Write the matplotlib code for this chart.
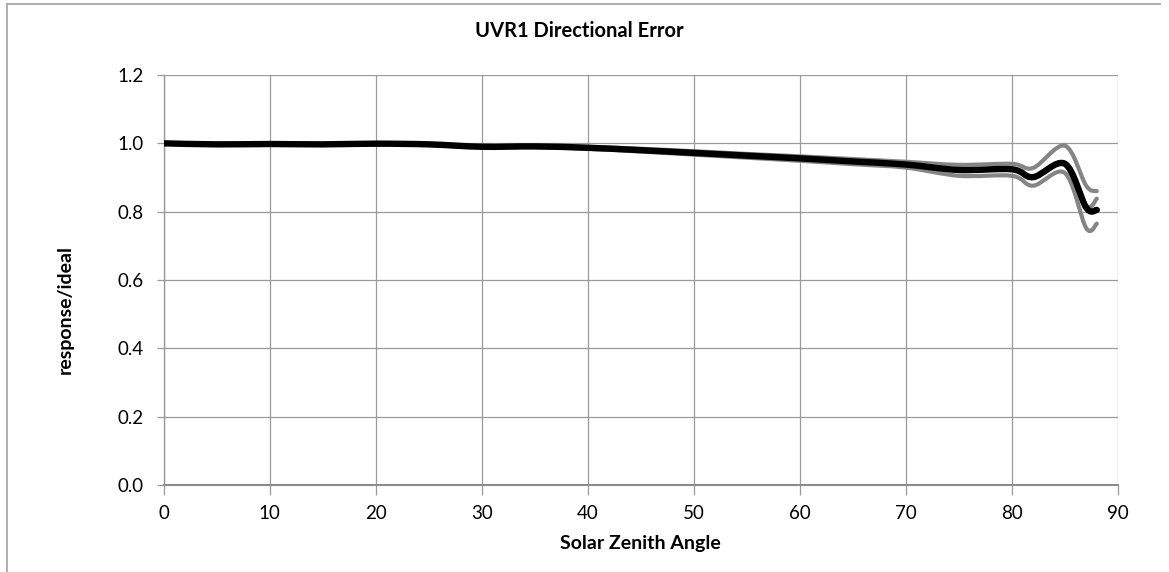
import numpy as np
import matplotlib
matplotlib.use("Agg")
import matplotlib.pyplot as plt
from matplotlib.path import Path
from matplotlib.patches import PathPatch
from matplotlib.lines import Line2D

# Solar zenith angles (degrees) and relative response of the UVR1 sensor
angles = [0, 5, 10, 15, 20, 25, 30, 35, 40, 45, 50, 55, 60, 65, 70, 75, 80, 82, 85, 87, 88]
mean_response = [1.000, 0.997, 0.998, 0.997, 0.999, 0.997, 0.990, 0.991, 0.987, 0.980, 0.972,
                 0.964, 0.956, 0.947, 0.938, 0.922, 0.924, 0.901, 0.940, 0.812, 0.805]
upper_response = [1.001, 0.998, 0.999, 0.998, 1.000, 0.999, 0.992, 0.993, 0.990, 0.984, 0.977,
                  0.969, 0.962, 0.954, 0.946, 0.937, 0.940, 0.928, 0.993, 0.876, 0.860]
middle_response = [1.000, 0.997, 0.998, 0.997, 0.999, 0.997, 0.990, 0.991, 0.987, 0.980, 0.972,
                   0.964, 0.956, 0.947, 0.938, 0.923, 0.925, 0.903, 0.943, 0.818, 0.838]
lower_response = [0.999, 0.996, 0.997, 0.996, 0.998, 0.995, 0.988, 0.989, 0.984, 0.976, 0.967,
                  0.958, 0.949, 0.939, 0.929, 0.905, 0.905, 0.876, 0.913, 0.752, 0.765]

x_ticks = [0, 10, 20, 30, 40, 50, 60, 70, 80, 90]
y_ticks = [0.0, 0.2, 0.4, 0.6, 0.8, 1.0, 1.2]

FONT = ["Lato", "DejaVu Sans"]
plt.rcParams["font.family"] = FONT


def smooth_path(x, y):
    """Cubic Bezier path through the points (spreadsheet-style smoothed line)."""
    pts = np.column_stack([x, y]).astype(float)
    n = len(pts)
    verts = [pts[0]]
    codes = [Path.MOVETO]
    for i in range(n - 1):
        p0 = pts[max(i - 1, 0)]
        p1 = pts[i]
        p2 = pts[i + 1]
        p3 = pts[min(i + 2, n - 1)]
        c1 = p1 + (p2 - p0) / 6.0
        c2 = p2 - (p3 - p1) / 6.0
        verts += [c1, c2, p2]
        codes += [Path.CURVE4] * 3
    return Path(verts, codes)


W, H = 1169, 572
fig = plt.figure(figsize=(W / 100, H / 100), dpi=100)
fig.patch.set_facecolor("white")

left, right, top, bottom = 163.5, 1118, 75, 485
ax = fig.add_axes([left / W, (H - bottom) / H, (right - left) / W, (bottom - top) / H])

grid_col = "#9a9a9a"
ax.set_xlim(0, 90)
ax.set_ylim(0, 1.2)
ax.set_xticks(x_ticks)
ax.set_yticks(y_ticks)
ax.set_xticklabels([str(v) for v in x_ticks])
ax.set_yticklabels([f"{v:.1f}" for v in y_ticks])
ax.grid(True, color=grid_col, linewidth=0.9)
ax.set_axisbelow(True)
for side in ("top", "right"):
    ax.spines[side].set_visible(False)
ax.spines["left"].set_color(grid_col)
ax.spines["left"].set_linewidth(1.0)
ax.spines["bottom"].set_color("#8c8c8c")
ax.spines["bottom"].set_linewidth(1.5)
ax.tick_params(axis="y", direction="out", length=5, width=0.9, color=grid_col,
               labelsize=13.5, pad=9, labelcolor="black")
ax.tick_params(axis="x", direction="out", length=7, width=0.9, color=grid_col,
               labelsize=13.5, pad=7.5, labelcolor="black")

for series in (upper_response, middle_response, lower_response):
    ax.add_patch(PathPatch(smooth_path(angles, series), fill=False, edgecolor="#858585",
                           linewidth=3.0, capstyle="round", joinstyle="round", zorder=3))
ax.add_patch(PathPatch(smooth_path(angles, mean_response), fill=False, edgecolor="black",
                       linewidth=4.6, capstyle="round", joinstyle="round", zorder=4))

fig.text(579 / W, 1 - 31 / H, "UVR1 Directional Error", ha="center", va="center",
         fontsize=14.5, fontweight="bold")
fig.text(640 / W, 1 - 543 / H, "Solar Zenith Angle", ha="center", va="center",
         fontsize=14, fontweight="bold")
fig.text(65 / W, 1 - 310 / H, "response/ideal", ha="center", va="center",
         rotation=90, fontsize=14, fontweight="bold")

# chart frame
frame_col = "#a8a8a8"
fig.add_artist(Line2D([6.5 / W, 6.5 / W], [1 - 4 / H, 0], transform=fig.transFigure,
                      color=frame_col, linewidth=1.3))
fig.add_artist(Line2D([6.5 / W, 1160 / W], [1 - 4 / H, 1 - 4 / H], transform=fig.transFigure,
                      color=frame_col, linewidth=1.3))

fig.savefig("out.png", dpi=100)
